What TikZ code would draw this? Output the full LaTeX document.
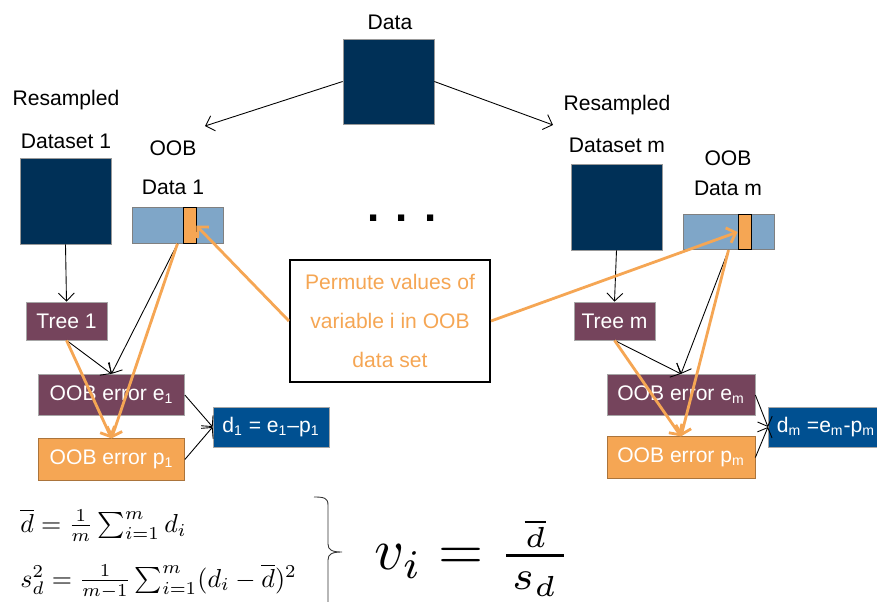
\documentclass[tikz,border=0pt]{standalone}
\usepackage{amsmath}
\usepackage{graphicx}
\usepackage[no-math]{fontspec}
\newfontfamily\arialfont{Liberation Sans}
\usetikzlibrary{arrows.meta,positioning}

\definecolor{navy}{RGB}{0,48,87}
\definecolor{oobblue}{RGB}{127,166,200}
\definecolor{plum}{RGB}{117,68,92}
\definecolor{permorange}{RGB}{245,166,84}
\definecolor{dblue}{RGB}{0,80,145}

\tikzset{
  heading/.style={font=\arialfont\fontsize{12}{14}\selectfont},
  sample/.style={fill=navy, draw=black!40, inner sep=0pt, minimum width=1.82cm, minimum height=1.72cm},
  oob/.style={fill=oobblue, draw=black!50, inner sep=0pt, minimum width=1.82cm, minimum height=0.71cm},
  perm/.style={fill=permorange, draw=black, inner sep=0pt, minimum width=0.26cm, minimum height=0.71cm},
  whitebox/.style={draw=black!35, inner sep=0pt, text=white, font=\arialfont\fontsize{12}{14}\selectfont},
  tree/.style={whitebox, fill=plum, minimum width=1.62cm, minimum height=0.76cm},
  err/.style={whitebox, minimum width=2.92cm, minimum height=0.83cm},
  diff/.style={whitebox, fill=dblue, minimum height=0.8cm},
  formula/.style={anchor=west, inner sep=0pt},
  flow/.style={->, black, line width=0.5pt},
  swap/.style={->, permorange, line width=1.6pt},
}

\begin{document}
\begin{tikzpicture}[x=0.02cm, y=-0.02cm, >={Straight Barb[length=4.5pt,width=9pt]}]
    \useasboundingbox (0,0) rectangle (877,602);

    % Full data set
    \node[heading] (datatitle) at (390,22) {Data};
    \node[sample, minimum height=1.70cm] (data) at (388.5,81.5) {};
    \coordinate (leftend) at (205,126);
    \coordinate (rightend) at (553,125);
    \draw[flow] (data.west) -- (leftend);
    \draw[flow] (data.east) -- (rightend);

    % First tree
    \node[heading] (rs1) at (66,100) {Resampled};
    \node[heading] (dsname1) at (66,141) {Dataset 1};
    \node[sample] (ds1) at (65.5,201) {};
    \node[heading] (oobname1) at (173,148) {OOB};
    \node[heading] (oobdata1) at (173,187) {Data 1};
    \node[oob] (oob1) at (177.5,225.5) {};
    \node[perm] (var1) at (189.5,225.5) {};
    \node[tree] (tree1) at (66.5,321) {Tree 1};
    \node[err, fill=plum] (e1) at (111.5,395) {OOB error e\textsubscript{1}};
    \node[err, fill=permorange, draw=permorange!70!black] (p1) at (111.5,459.5) {OOB error p\textsubscript{1}};
    \node[diff, minimum width=2.32cm] (d1) at (271,427) {d\textsubscript{1} = e\textsubscript{1}–p\textsubscript{1}};

    \draw[flow] (ds1.south) -- (tree1.north);
    \draw[flow] (oob1.south) -- (e1.north);
    \draw[flow] (tree1.south) -- (e1.north);
    \draw[swap] (oob1.south) -- (p1.north);
    \draw[swap] (tree1.south) -- (p1.north);
    \draw[flow] (e1.east) -- (d1.west);
    \draw[flow] (p1.east) -- (d1.west);

    % Last tree
    \node[heading] (rsm) at (617,105) {Resampled};
    \node[heading] (dsnamem) at (617,145) {Dataset m};
    \node[sample] (dsm) at (616.5,207) {};
    \node[heading] (oobnamem) at (728,158) {OOB};
    \node[heading] (oobdatam) at (728,188) {Data m};
    \node[oob] (oobm) at (728.5,232) {};
    \node[perm] (varm) at (744.5,232) {};
    \node[tree] (treem) at (614.5,321) {Tree m};
    \node[err, fill=plum, minimum width=2.96cm] (em) at (681,395) {OOB error e\textsubscript{m}};
    \node[err, fill=permorange, draw=permorange!70!black, minimum width=2.96cm] (pm) at (681,457.5) {OOB error p\textsubscript{m}};
    \node[diff, minimum width=2.3cm, anchor=west] (dm) at (768,427) {d\textsubscript{m} =e\textsubscript{m}-p\textsubscript{m}};

    \draw[flow] (dsm.south) -- (treem.north);
    \draw[flow] (oobm.south) -- (em.north);
    \draw[flow] (treem.south) -- (em.north);
    \draw[swap] (oobm.south) -- (pm.north);
    \draw[swap] (treem.south) -- (pm.north);
    \draw[flow] (em.east) -- (dm.west);
    \draw[flow] (pm.east) -- (dm.west);

    % Trees in between
    \node[font=\arialfont\bfseries\fontsize{25}{28}\selectfont] (dots) at (402,218) {. . .};

    % Permutation step
    \node[draw=black, line width=1.2pt, minimum width=4cm, minimum height=2.44cm, text=permorange,
          align=center, font=\arialfont\fontsize{12}{22}\selectfont] (permute) at (390,321)
          {Permute values of\\variable i in OOB\\data set};
    \draw[swap] (permute.west) -- (var1.east);
    \draw[swap] (permute.east) -- (varm.west);

    % Importance score
    \node[formula] (mean) at (20,525)
          {\scalebox{1.48}{$\overline{d} = \frac{1}{m}\sum_{i=1}^{m} d_i$}};
    \node[formula] (spread) at (20,581)
          {\scalebox{1.48}{$s_d^2 = \frac{1}{m-1}\sum_{i=1}^{m}(d_i-\overline{d})^2$}};
    % brace joining both lines
    \draw[black!80, line width=0.5pt] (314,497) .. controls (324,497) and (328,498) .. (328,505)
          -- (328,544) .. controls (328,550) and (332,552) .. (342,552)
          .. controls (332,552) and (328,554) .. (328,560) -- (328,610);
    \node (vimp) at (473,558) {\scalebox{3.3}{$v_i = \frac{\makebox[10pt]{$\scriptscriptstyle\overline{d}$}}{\makebox[10pt]{$\scriptstyle s_d$}}$}};
\end{tikzpicture}
\end{document}
